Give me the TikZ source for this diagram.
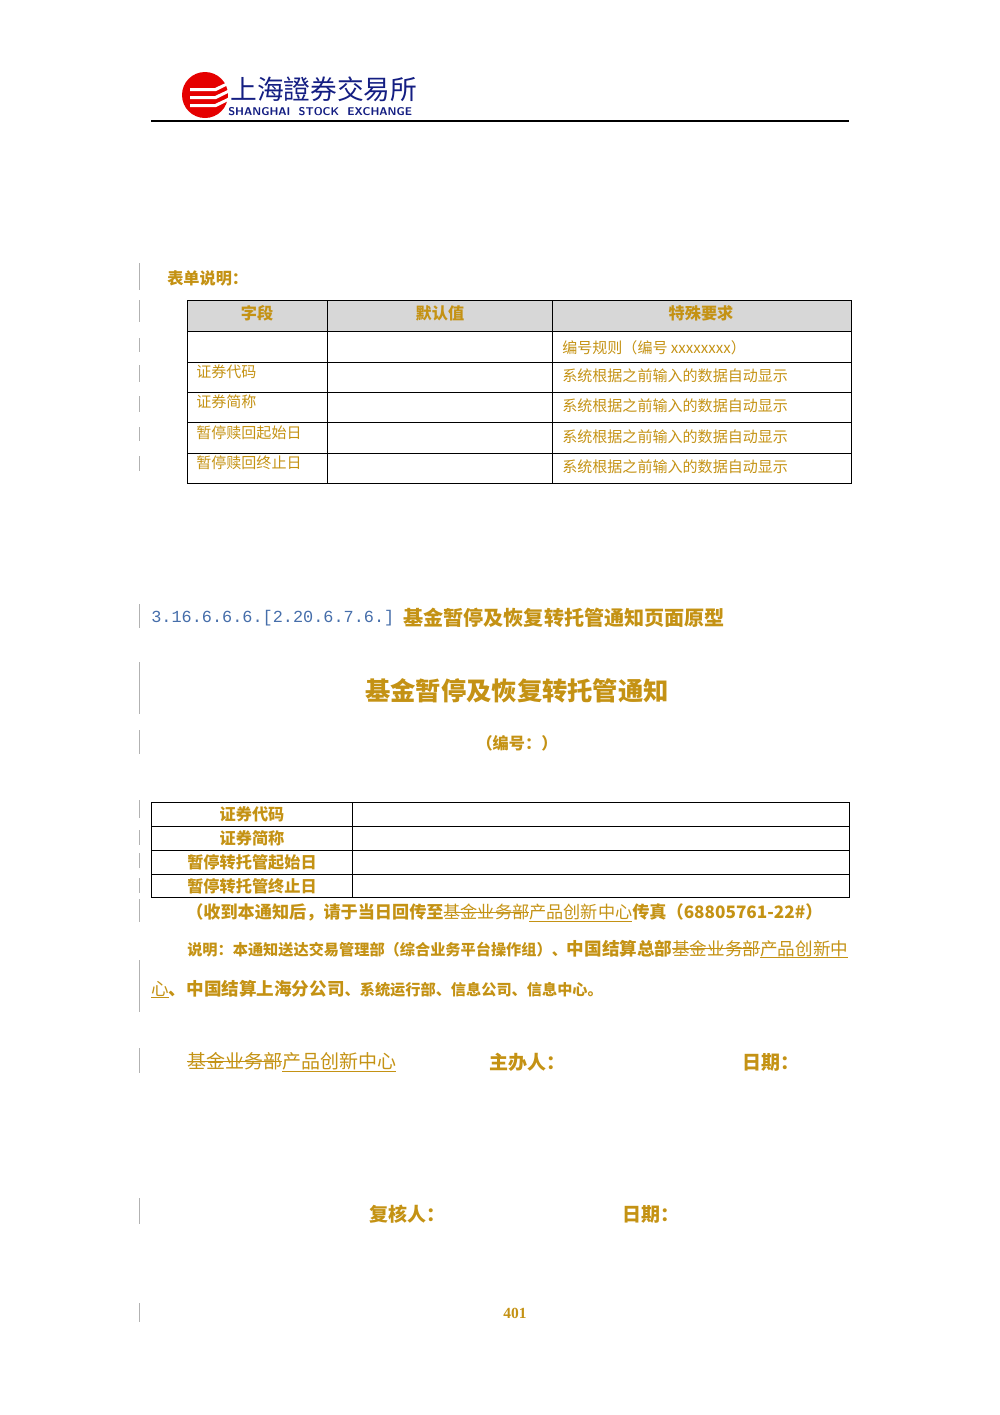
\documentclass[tikz,border=0pt]{standalone}
\usepackage{fontspec}
\newfontfamily\cjk{Noto Sans CJK SC}
\let\cjkb\cjk
\setmainfont{Liberation Serif}
\setmonofont{Liberation Mono}
\newcommand\myul[1]{\setbox0\hbox{#1}\rlap{\rule[-0.18em]{\wd0}{0.06em}}\box0}
\newcommand\myso[1]{\setbox2\hbox{#1}\copy2\kern-\wd2\rule[0.32em]{\wd2}{0.08em}}
\definecolor{gold}{RGB}{196,146,20}
\definecolor{navy}{RGB}{20,30,130}
\definecolor{hblue}{RGB}{70,110,170}
\definecolor{hdr}{RGB}{215,215,215}
\begin{document}
\begin{tikzpicture}[x=0.025cm,y=-0.025cm,
  t/.style={font=\cjk\fontsize{#1}{#1}\selectfont,text=gold,inner sep=0pt},
  t/.default=10.7,
  bar/.style={draw=gray!60,line width=0.5pt},
  grid/.style={draw=black,line width=0.6pt}]
\useasboundingbox (0,0) rectangle (1000,1415);
% header
\fill[red!90!black] (205,95) circle (23);
\foreach \yy in {88,96,104}{\fill[white] (190,\yy) -- (215,\yy) -- (232,\yy-8) -- (232,\yy-5) -- (216,\yy+3) -- (190,\yy+3) -- cycle;}
\node[anchor=west,inner sep=0pt,text=navy,font=\cjk\fontsize{19}{19}\selectfont] (logo) at (230,89) {上海證券交易所};
\node[anchor=west,inner sep=0pt,text=navy,font=\sffamily\bfseries\fontsize{8}{8}\selectfont] (logoen) at (228,112) {SHANGHAI\ \ STOCK\ \ EXCHANGE};
\draw[line width=1pt] (151,121) -- (849,121);
% side bars
\foreach \a/\b in {263/290,300/322,338/352,365/382,396/412,427/441,456/471,604/628,662/714,730/754,800/818,830/845,853/868,878/893,899/922,960/1012,1048/1073,1198/1224,1303/1322}{\draw[bar] (139,\a) -- (139,\b);}
\node[t=11,anchor=west,font=\cjkb\bfseries\fontsize{11.5}{11.5}\selectfont] (fd) at (167,278) {表单说明：};
% table 1
\fill[hdr] (187,300) rectangle (851,331);
\draw[grid] (187,300) rectangle (851,483);
\foreach \yy in {331,362,392,422,453}{\draw[grid] (187,\yy) -- (851,\yy);}
\draw[grid] (327,300) -- (327,483);
\draw[grid] (552,300) -- (552,483);
\node[t=11,font=\cjkb\bfseries\fontsize{11.5}{11.5}\selectfont] (h1) at (257,313) {字段};
\node[t=11,font=\cjkb\bfseries\fontsize{11.5}{11.5}\selectfont] (h2) at (440,313) {默认值};
\node[t=11,font=\cjkb\bfseries\fontsize{11.5}{11.5}\selectfont] (h3) at (701,313) {特殊要求};
\node[t,anchor=west] (r0) at (562,348) {编号规则（编号 xxxxxxxx）};
\foreach \nm/\yy/\lab in {a/372/证券代码,b/402/证券简称,c/433/暂停赎回起始日,d/463/暂停赎回终止日}{
  \node[t,anchor=west] (f\nm) at (196,\yy) {\lab};
  \node[t,anchor=west] (s\nm) at (562,\yy+4) {系统根据之前输入的数据自动显示};}
% heading
\node[anchor=west,inner sep=0pt,text=hblue,font=\ttfamily\fontsize{12}{12}\selectfont] (hn) at (151,618) {3.16.6.6.6.[2.20.6.7.6.]};
\node[t=14,anchor=west,font=\cjkb\bfseries\fontsize{14.3}{14.3}\selectfont] (ht) at (403,618) {基金暂停及恢复转托管通知页面原型};
\node[t=18,font=\cjkb\bfseries\fontsize{18}{18}\selectfont] (title) at (517,691) {基金暂停及恢复转托管通知};
\node[t=11,font=\cjkb\bfseries\fontsize{11.5}{11.5}\selectfont] (num) at (517,743) {（编号：）};
% table 2
\draw[grid] (151,802) rectangle (849,897);
\foreach \yy in {826,850,874}{\draw[grid] (151,\yy) -- (849,\yy);}
\draw[grid] (352,802) -- (352,897);
\foreach \nm/\yy/\lab in {a/814/证券代码,b/838/证券简称,c/862/暂停转托管起始日,d/886/暂停转托管终止日}{
  \node[t=11,font=\cjkb\bfseries\fontsize{11.5}{11.5}\selectfont] (g\nm) at (252,\yy) {\lab};}
% notes
\node[t=12,anchor=west,font=\cjkb\bfseries\fontsize{12.2}{12.2}\selectfont] (n1) at (186,913) {（收到本通知后，请于当日回传至{\mdseries\myso{基金业务部}\myul{产品创新中心}}传真（68805761-22\#）};
\node[t=10,anchor=west,font=\cjkb\bfseries\fontsize{10.8}{10.8}\selectfont] (n2) at (187,949) {说明：本通知送达交易管理部（综合业务平台操作组）、{\fontsize{12.5}{12.5}\selectfont 中国结算总部{\mdseries\myso{基金业务部}\myul{产品创新中}}}};
\node[t=10,anchor=west,font=\cjkb\bfseries\fontsize{10.8}{10.8}\selectfont] (n3) at (151,989) {{\fontsize{12.5}{12.5}\selectfont{\mdseries\myul{心}}、中国结算上海分公司}、系统运行部、信息公司、信息中心。};
\node[t=13,anchor=west,font=\cjk\fontsize{13.5}{13.5}\selectfont] (dept) at (187,1062) {\myso{基金业务部}\myul{产品创新中心}};
\node[t=13,anchor=west,font=\cjkb\bfseries\fontsize{13.5}{13.5}\selectfont] (zb) at (489,1062) {主办人：};
\node[t=13,anchor=west,font=\cjkb\bfseries\fontsize{13.5}{13.5}\selectfont] (rq1) at (742,1062) {日期：};
\node[t=13,anchor=west,font=\cjkb\bfseries\fontsize{13.5}{13.5}\selectfont] (fh) at (369,1214) {复核人：};
\node[t=13,anchor=west,font=\cjkb\bfseries\fontsize{13.5}{13.5}\selectfont] (rq2) at (622,1214) {日期：};
\node[inner sep=0pt,text=gold,font=\bfseries\fontsize{11}{11}\selectfont] (pg) at (515,1313) {401};
\end{tikzpicture}
\end{document}
